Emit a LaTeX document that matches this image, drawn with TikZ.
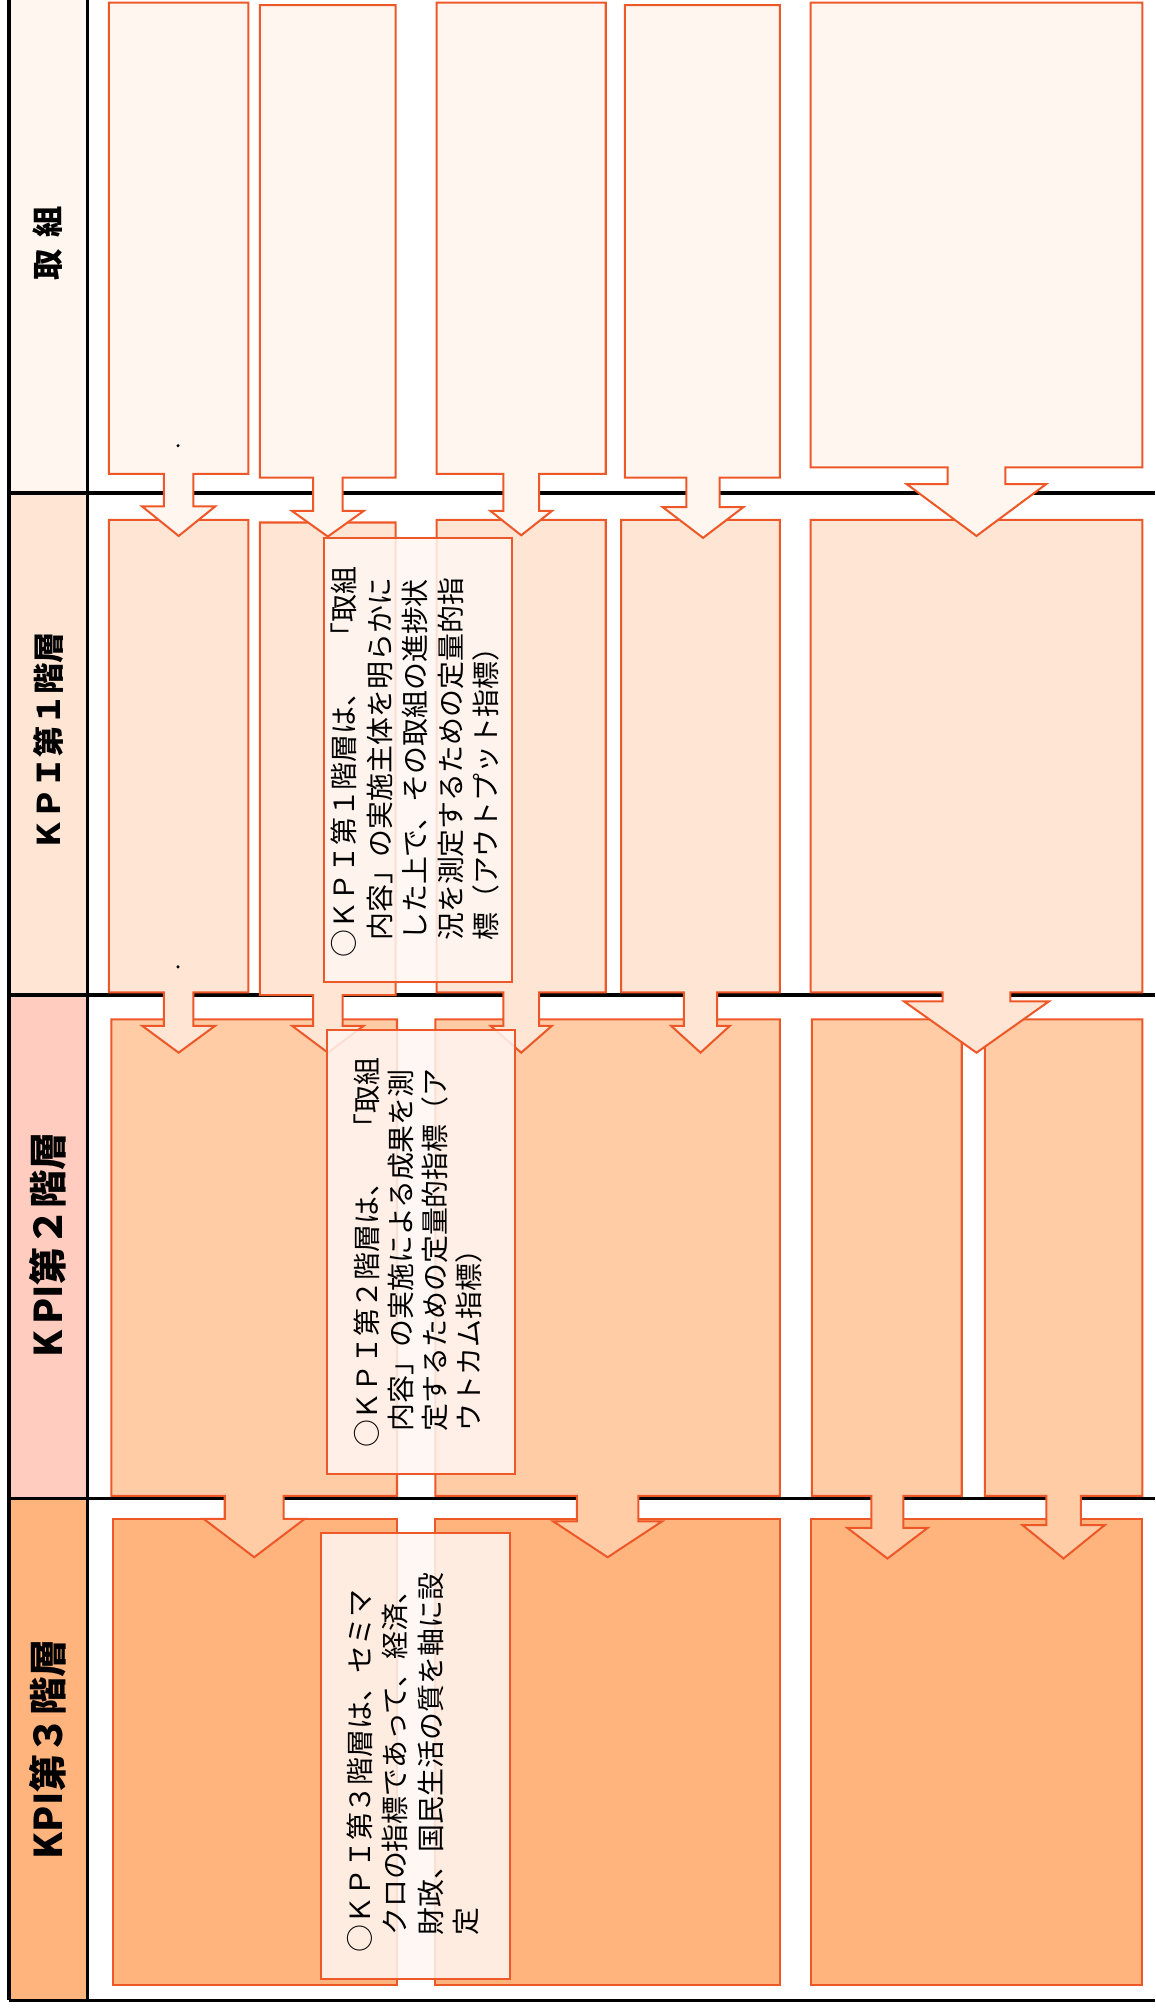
\documentclass[tikz,border=0pt]{standalone}
\usepackage{fontspec}
\newfontfamily\jp{Noto Sans CJK JP}
\definecolor{ol}{RGB}{238,88,40}
\definecolor{fa}{RGB}{255,246,240}
\definecolor{fb}{RGB}{254,229,212}
\definecolor{fc}{RGB}{255,204,166}
\definecolor{fd}{RGB}{255,180,126}
\definecolor{hc}{RGB}{255,204,191}
\definecolor{tf}{RGB}{255,246,242}
\tikzset{
  gridline/.style={line width=1.4pt, black},
  shp/.style={draw=ol, line width=0.9pt, line join=miter},
  tbox/.style={draw=ol, line width=0.9pt, fill=tf, fill opacity=0.85},
  hdr/.style={rotate=90, inner sep=0pt, font=\jp\bfseries},
  tbody/.style={rotate=90, inner sep=0pt, anchor=base west, text width=16em, align=left,
     font=\jp\fontsize{12.4}{15.8}\selectfont},
}
\begin{document}
\begin{tikzpicture}[x=0.02cm, y=-0.02cm]
\useasboundingbox (0,0) rectangle (902,1568);
% header column fills
\fill[fa] (7,0) rectangle (68,385);
\fill[fb] (7,385) rectangle (68,777);
\fill[hc] (7,777) rectangle (68,1170);
\fill[fd] (7,1170) rectangle (68,1562);
% grid
\draw[gridline] (7,0) -- (7,1562);
\draw[gridline] (68,0) -- (68,1562);
\foreach \yy in {385,777,1170,1562} \draw[gridline] (7,\yy) -- (902,\yy);
% row 4 boxes
\draw[shp, fill=fd] (88,1186) rectangle (310,1550);
\draw[shp, fill=fd] (340,1186) rectangle (609,1550);
\draw[shp, fill=fd] (633,1186) rectangle (892,1550);
% box + arrow shapes: x1/y1/x2/y2/tx/stem half/head y/head half/tip y/colour
\foreach \xa/\ya/\xb/\yb/\tx/\sh/\hy/\hh/\ty/\col in {
  87/796/310/1168/198.5/23/1186/39.5/1216/fc,
  340/796/609/1168/474.5/24/1188/42.5/1216/fc,
  634/796/751/1168/693/12.5/1193/31.5/1217/fc,
  769/796/892/1168/830.5/13.5/1191/32/1217/fc,
  85/406/194/775/139.5/11.5/801/28.5/822/fb,
  203/408/309/777/256/11.5/801/28/822/fb,
  341/406/473/775/407/14/801/24/822/fb,
  485/406/609/775/547/13/801/23/822/fb,
  633/406/892/775/762.5/26.5/782/56.5/822/fb,
  85/2/194/370/139.5/11.5/395.5/28.5/418.5/fa,
  203/4/309/373/256/11.5/399/28/419/fa,
  341/2/473/370/407/14/399/24/418/fa,
  488/4/609/373/549/13/396/31.5/420/fa,
  633/2/892/365/762.5/22.5/378/54.5/418.5/fa}
{
  \draw[shp, fill=\col] (\xa,\ya) -- (\xb,\ya) -- (\xb,\yb) -- (\tx+\sh,\yb) -- (\tx+\sh,\hy)
    -- (\tx+\hh,\hy) -- (\tx,\ty) -- (\tx-\hh,\hy) -- (\tx-\sh,\hy) -- (\tx-\sh,\yb)
    -- (\xa,\yb) -- cycle;
}
% small dots
\fill[black] (139,348) circle (1.3);
\fill[black] (139,755) circle (1.3);
% headers
\node[hdr, font=\jp\bfseries\fontsize{13.9}{16}\selectfont] (h1) at (37.5,190) {取\hspace{0.35em}組};
\node[hdr, font=\jp\bfseries\fontsize{13.9}{16}\selectfont] (h2) at (37.5,579) {ＫＰＩ第１階層};
\node[hdr, font=\jp\bfseries\fontsize{17}{20}\selectfont] (h3) at (37.5,972) {K\kern0.15em PI第２階層};
\node[hdr, font=\jp\bfseries\fontsize{17}{20}\selectfont] (h4) at (37.5,1366) {KPI第３階層};
% explanation boxes
\draw[tbox] (253,420) rectangle (400,767);
\node[tbody] (t1) at (277,748) {○ＫＰＩ第１階層は、　「取組\\
\hspace*{0.6em}内容」の実施主体を明らかに\\
\hspace*{0.6em}した上で、その取組の進捗状\\
\hspace*{0.6em}況を測定するための定量的指\\
\hspace*{0.6em}標（アウトプット指標）};
\draw[tbox] (255,804) rectangle (402,1151);
\node[tbody, font=\jp\fontsize{12.4}{15.2}\selectfont] (t2) at (294.5,1131) {○ＫＰＩ第２階層は、　「取組\\
\hspace*{0.6em}内容」の実施による成果を測\\
\hspace*{0.6em}定するための定量的指標（ア\\
\hspace*{0.6em}ウトカム指標）};
\draw[tbox] (251,1197) rectangle (398,1545);
\node[tbody] (t3) at (289,1525) {○ＫＰＩ第３階層は、セミマ\\
\hspace*{0.6em}クロの指標であって、経済、\\
\hspace*{0.6em}財政、国民生活の質を軸に設\\
\hspace*{0.6em}定};
\end{tikzpicture}
\end{document}
